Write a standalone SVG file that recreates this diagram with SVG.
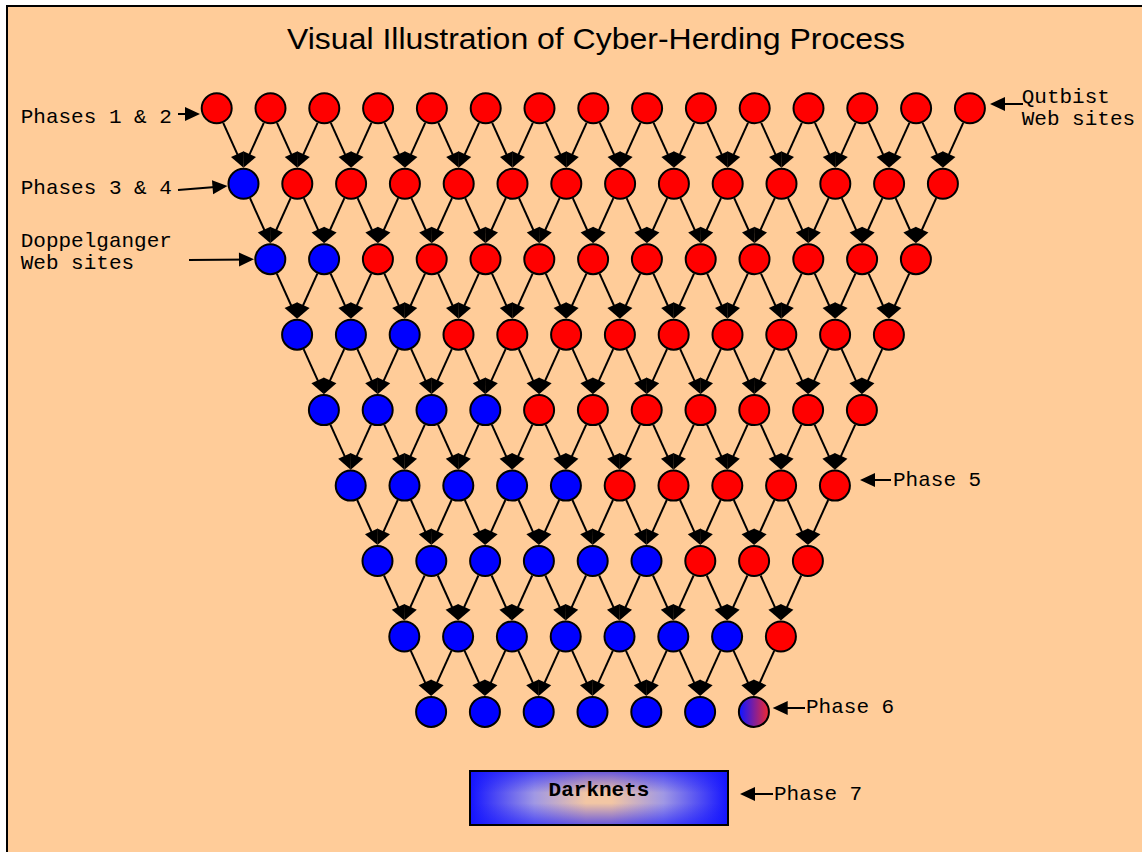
<svg xmlns="http://www.w3.org/2000/svg" width="1142" height="852" viewBox="0 0 1142 852">
<style>
.n circle{stroke:#000;stroke-width:2}
.red{fill:#ff0000}
.blue{fill:#0000ff}
#edges line,.ann line{stroke:#000;stroke-width:2;marker-end:url(#ah)}
.lbl{font-family:"Liberation Mono","Courier New",monospace;font-size:21px;fill:#000}
</style>
<defs>
<marker id="ah" markerUnits="userSpaceOnUse" markerWidth="16" markerHeight="15" refX="12" refY="7" orient="auto" overflow="visible"><path d="M0,0 L15,7 L0,14 z" fill="#000"/></marker>
<linearGradient id="mix" x1="0" y1="0" x2="1" y2="0"><stop offset="0.05" stop-color="#1515ff"/><stop offset="0.95" stop-color="#e8283a"/></linearGradient>
<linearGradient id="dkh" x1="0" y1="0" x2="1" y2="0"><stop offset="0" stop-color="#1414ff"/><stop offset="0.25" stop-color="#a098e4"/><stop offset="0.45" stop-color="#f2c6a4"/><stop offset="0.55" stop-color="#f2c6a4"/><stop offset="0.75" stop-color="#a098e4"/><stop offset="1" stop-color="#1414ff"/></linearGradient>
<linearGradient id="dkv" x1="0" y1="0" x2="0" y2="1"><stop offset="0" stop-color="#1414ff" stop-opacity="0.6"/><stop offset="0.4" stop-color="#1414ff" stop-opacity="0"/><stop offset="0.6" stop-color="#1414ff" stop-opacity="0"/><stop offset="1" stop-color="#1414ff" stop-opacity="0.6"/></linearGradient>
</defs>
<rect x="0" y="0" width="1142" height="852" fill="#ffffff"/>
<rect x="7" y="6" width="1200" height="900" fill="#ffcc99" stroke="#000" stroke-width="2"/>
<text x="287" y="49" font-family="Liberation Sans, Arial, sans-serif" font-size="30" textLength="618" lengthAdjust="spacingAndGlyphs">Visual Illustration of Cyber-Herding Process</text>

<g id="edges">
<g transform="translate(243.5,183.8)">
<line x1="-20.3" y1="-61" x2="-1.2" y2="-18.7"/><line x1="20.3" y1="-61" x2="1.2" y2="-18.7"/>
<line x1="33.5" y1="-61" x2="52.6" y2="-18.7"/><line x1="74.1" y1="-61" x2="55" y2="-18.7"/>
<line x1="87.3" y1="-61" x2="106.4" y2="-18.7"/><line x1="127.9" y1="-61" x2="108.8" y2="-18.7"/>
<line x1="141.1" y1="-61" x2="160.2" y2="-18.7"/><line x1="181.7" y1="-61" x2="162.6" y2="-18.7"/>
<line x1="194.9" y1="-61" x2="214" y2="-18.7"/><line x1="235.5" y1="-61" x2="216.4" y2="-18.7"/>
<line x1="248.7" y1="-61" x2="267.8" y2="-18.7"/><line x1="289.3" y1="-61" x2="270.2" y2="-18.7"/>
<line x1="302.5" y1="-61" x2="321.6" y2="-18.7"/><line x1="343.1" y1="-61" x2="324" y2="-18.7"/>
<line x1="356.3" y1="-61" x2="375.4" y2="-18.7"/><line x1="396.9" y1="-61" x2="377.8" y2="-18.7"/>
<line x1="410.1" y1="-61" x2="429.2" y2="-18.7"/><line x1="450.7" y1="-61" x2="431.6" y2="-18.7"/>
<line x1="463.9" y1="-61" x2="483" y2="-18.7"/><line x1="504.5" y1="-61" x2="485.4" y2="-18.7"/>
<line x1="517.7" y1="-61" x2="536.8" y2="-18.7"/><line x1="558.3" y1="-61" x2="539.2" y2="-18.7"/>
<line x1="571.5" y1="-61" x2="590.6" y2="-18.7"/><line x1="612.1" y1="-61" x2="593" y2="-18.7"/>
<line x1="625.3" y1="-61" x2="644.4" y2="-18.7"/><line x1="665.9" y1="-61" x2="646.8" y2="-18.7"/>
<line x1="679.1" y1="-61" x2="698.2" y2="-18.7"/><line x1="719.7" y1="-61" x2="700.6" y2="-18.7"/>
</g>
<g transform="translate(270.3,259.2)">
<line x1="-20.3" y1="-61" x2="-1.2" y2="-18.7"/><line x1="20.3" y1="-61" x2="1.2" y2="-18.7"/>
<line x1="33.5" y1="-61" x2="52.6" y2="-18.7"/><line x1="74.1" y1="-61" x2="55" y2="-18.7"/>
<line x1="87.3" y1="-61" x2="106.4" y2="-18.7"/><line x1="127.9" y1="-61" x2="108.8" y2="-18.7"/>
<line x1="141.1" y1="-61" x2="160.2" y2="-18.7"/><line x1="181.7" y1="-61" x2="162.6" y2="-18.7"/>
<line x1="194.9" y1="-61" x2="214" y2="-18.7"/><line x1="235.5" y1="-61" x2="216.4" y2="-18.7"/>
<line x1="248.7" y1="-61" x2="267.8" y2="-18.7"/><line x1="289.3" y1="-61" x2="270.2" y2="-18.7"/>
<line x1="302.5" y1="-61" x2="321.6" y2="-18.7"/><line x1="343.1" y1="-61" x2="324" y2="-18.7"/>
<line x1="356.3" y1="-61" x2="375.4" y2="-18.7"/><line x1="396.9" y1="-61" x2="377.8" y2="-18.7"/>
<line x1="410.1" y1="-61" x2="429.2" y2="-18.7"/><line x1="450.7" y1="-61" x2="431.6" y2="-18.7"/>
<line x1="463.9" y1="-61" x2="483" y2="-18.7"/><line x1="504.5" y1="-61" x2="485.4" y2="-18.7"/>
<line x1="517.7" y1="-61" x2="536.8" y2="-18.7"/><line x1="558.3" y1="-61" x2="539.2" y2="-18.7"/>
<line x1="571.5" y1="-61" x2="590.6" y2="-18.7"/><line x1="612.1" y1="-61" x2="593" y2="-18.7"/>
<line x1="625.3" y1="-61" x2="644.4" y2="-18.7"/><line x1="665.9" y1="-61" x2="646.8" y2="-18.7"/>
</g>
<g transform="translate(297.1,334.7)">
<line x1="-20.3" y1="-61" x2="-1.2" y2="-18.7"/><line x1="20.3" y1="-61" x2="1.2" y2="-18.7"/>
<line x1="33.5" y1="-61" x2="52.6" y2="-18.7"/><line x1="74.1" y1="-61" x2="55" y2="-18.7"/>
<line x1="87.3" y1="-61" x2="106.4" y2="-18.7"/><line x1="127.9" y1="-61" x2="108.8" y2="-18.7"/>
<line x1="141.1" y1="-61" x2="160.2" y2="-18.7"/><line x1="181.7" y1="-61" x2="162.6" y2="-18.7"/>
<line x1="194.9" y1="-61" x2="214" y2="-18.7"/><line x1="235.5" y1="-61" x2="216.4" y2="-18.7"/>
<line x1="248.7" y1="-61" x2="267.8" y2="-18.7"/><line x1="289.3" y1="-61" x2="270.2" y2="-18.7"/>
<line x1="302.5" y1="-61" x2="321.6" y2="-18.7"/><line x1="343.1" y1="-61" x2="324" y2="-18.7"/>
<line x1="356.3" y1="-61" x2="375.4" y2="-18.7"/><line x1="396.9" y1="-61" x2="377.8" y2="-18.7"/>
<line x1="410.1" y1="-61" x2="429.2" y2="-18.7"/><line x1="450.7" y1="-61" x2="431.6" y2="-18.7"/>
<line x1="463.9" y1="-61" x2="483" y2="-18.7"/><line x1="504.5" y1="-61" x2="485.4" y2="-18.7"/>
<line x1="517.7" y1="-61" x2="536.8" y2="-18.7"/><line x1="558.3" y1="-61" x2="539.2" y2="-18.7"/>
<line x1="571.5" y1="-61" x2="590.6" y2="-18.7"/><line x1="612.1" y1="-61" x2="593" y2="-18.7"/>
</g>
<g transform="translate(323.9,410.1)">
<line x1="-20.3" y1="-61" x2="-1.2" y2="-18.7"/><line x1="20.3" y1="-61" x2="1.2" y2="-18.7"/>
<line x1="33.5" y1="-61" x2="52.6" y2="-18.7"/><line x1="74.1" y1="-61" x2="55" y2="-18.7"/>
<line x1="87.3" y1="-61" x2="106.4" y2="-18.7"/><line x1="127.9" y1="-61" x2="108.8" y2="-18.7"/>
<line x1="141.1" y1="-61" x2="160.2" y2="-18.7"/><line x1="181.7" y1="-61" x2="162.6" y2="-18.7"/>
<line x1="194.9" y1="-61" x2="214" y2="-18.7"/><line x1="235.5" y1="-61" x2="216.4" y2="-18.7"/>
<line x1="248.7" y1="-61" x2="267.8" y2="-18.7"/><line x1="289.3" y1="-61" x2="270.2" y2="-18.7"/>
<line x1="302.5" y1="-61" x2="321.6" y2="-18.7"/><line x1="343.1" y1="-61" x2="324" y2="-18.7"/>
<line x1="356.3" y1="-61" x2="375.4" y2="-18.7"/><line x1="396.9" y1="-61" x2="377.8" y2="-18.7"/>
<line x1="410.1" y1="-61" x2="429.2" y2="-18.7"/><line x1="450.7" y1="-61" x2="431.6" y2="-18.7"/>
<line x1="463.9" y1="-61" x2="483" y2="-18.7"/><line x1="504.5" y1="-61" x2="485.4" y2="-18.7"/>
<line x1="517.7" y1="-61" x2="536.8" y2="-18.7"/><line x1="558.3" y1="-61" x2="539.2" y2="-18.7"/>
</g>
<g transform="translate(350.7,485.6)">
<line x1="-20.3" y1="-61" x2="-1.2" y2="-18.7"/><line x1="20.3" y1="-61" x2="1.2" y2="-18.7"/>
<line x1="33.5" y1="-61" x2="52.6" y2="-18.7"/><line x1="74.1" y1="-61" x2="55" y2="-18.7"/>
<line x1="87.3" y1="-61" x2="106.4" y2="-18.7"/><line x1="127.9" y1="-61" x2="108.8" y2="-18.7"/>
<line x1="141.1" y1="-61" x2="160.2" y2="-18.7"/><line x1="181.7" y1="-61" x2="162.6" y2="-18.7"/>
<line x1="194.9" y1="-61" x2="214" y2="-18.7"/><line x1="235.5" y1="-61" x2="216.4" y2="-18.7"/>
<line x1="248.7" y1="-61" x2="267.8" y2="-18.7"/><line x1="289.3" y1="-61" x2="270.2" y2="-18.7"/>
<line x1="302.5" y1="-61" x2="321.6" y2="-18.7"/><line x1="343.1" y1="-61" x2="324" y2="-18.7"/>
<line x1="356.3" y1="-61" x2="375.4" y2="-18.7"/><line x1="396.9" y1="-61" x2="377.8" y2="-18.7"/>
<line x1="410.1" y1="-61" x2="429.2" y2="-18.7"/><line x1="450.7" y1="-61" x2="431.6" y2="-18.7"/>
<line x1="463.9" y1="-61" x2="483" y2="-18.7"/><line x1="504.5" y1="-61" x2="485.4" y2="-18.7"/>
</g>
<g transform="translate(377.5,561)">
<line x1="-20.3" y1="-61" x2="-1.2" y2="-18.7"/><line x1="20.3" y1="-61" x2="1.2" y2="-18.7"/>
<line x1="33.5" y1="-61" x2="52.6" y2="-18.7"/><line x1="74.1" y1="-61" x2="55" y2="-18.7"/>
<line x1="87.3" y1="-61" x2="106.4" y2="-18.7"/><line x1="127.9" y1="-61" x2="108.8" y2="-18.7"/>
<line x1="141.1" y1="-61" x2="160.2" y2="-18.7"/><line x1="181.7" y1="-61" x2="162.6" y2="-18.7"/>
<line x1="194.9" y1="-61" x2="214" y2="-18.7"/><line x1="235.5" y1="-61" x2="216.4" y2="-18.7"/>
<line x1="248.7" y1="-61" x2="267.8" y2="-18.7"/><line x1="289.3" y1="-61" x2="270.2" y2="-18.7"/>
<line x1="302.5" y1="-61" x2="321.6" y2="-18.7"/><line x1="343.1" y1="-61" x2="324" y2="-18.7"/>
<line x1="356.3" y1="-61" x2="375.4" y2="-18.7"/><line x1="396.9" y1="-61" x2="377.8" y2="-18.7"/>
<line x1="410.1" y1="-61" x2="429.2" y2="-18.7"/><line x1="450.7" y1="-61" x2="431.6" y2="-18.7"/>
</g>
<g transform="translate(404.3,636.5)">
<line x1="-20.3" y1="-61" x2="-1.2" y2="-18.7"/><line x1="20.3" y1="-61" x2="1.2" y2="-18.7"/>
<line x1="33.5" y1="-61" x2="52.6" y2="-18.7"/><line x1="74.1" y1="-61" x2="55" y2="-18.7"/>
<line x1="87.3" y1="-61" x2="106.4" y2="-18.7"/><line x1="127.9" y1="-61" x2="108.8" y2="-18.7"/>
<line x1="141.1" y1="-61" x2="160.2" y2="-18.7"/><line x1="181.7" y1="-61" x2="162.6" y2="-18.7"/>
<line x1="194.9" y1="-61" x2="214" y2="-18.7"/><line x1="235.5" y1="-61" x2="216.4" y2="-18.7"/>
<line x1="248.7" y1="-61" x2="267.8" y2="-18.7"/><line x1="289.3" y1="-61" x2="270.2" y2="-18.7"/>
<line x1="302.5" y1="-61" x2="321.6" y2="-18.7"/><line x1="343.1" y1="-61" x2="324" y2="-18.7"/>
<line x1="356.3" y1="-61" x2="375.4" y2="-18.7"/><line x1="396.9" y1="-61" x2="377.8" y2="-18.7"/>
</g>
<g transform="translate(431.1,711.9)">
<line x1="-20.3" y1="-61" x2="-1.2" y2="-18.7"/><line x1="20.3" y1="-61" x2="1.2" y2="-18.7"/>
<line x1="33.5" y1="-61" x2="52.6" y2="-18.7"/><line x1="74.1" y1="-61" x2="55" y2="-18.7"/>
<line x1="87.3" y1="-61" x2="106.4" y2="-18.7"/><line x1="127.9" y1="-61" x2="108.8" y2="-18.7"/>
<line x1="141.1" y1="-61" x2="160.2" y2="-18.7"/><line x1="181.7" y1="-61" x2="162.6" y2="-18.7"/>
<line x1="194.9" y1="-61" x2="214" y2="-18.7"/><line x1="235.5" y1="-61" x2="216.4" y2="-18.7"/>
<line x1="248.7" y1="-61" x2="267.8" y2="-18.7"/><line x1="289.3" y1="-61" x2="270.2" y2="-18.7"/>
<line x1="302.5" y1="-61" x2="321.6" y2="-18.7"/><line x1="343.1" y1="-61" x2="324" y2="-18.7"/>
</g>
</g>

<g id="nodes">
<g transform="translate(216.7,108.3)">
<g id="n0-0" class="n"><circle class="red" cx="0" cy="0" r="15"/></g>
<g id="n0-1" class="n"><circle class="red" cx="53.8" cy="0" r="15"/></g>
<g id="n0-2" class="n"><circle class="red" cx="107.6" cy="0" r="15"/></g>
<g id="n0-3" class="n"><circle class="red" cx="161.4" cy="0" r="15"/></g>
<g id="n0-4" class="n"><circle class="red" cx="215.2" cy="0" r="15"/></g>
<g id="n0-5" class="n"><circle class="red" cx="269" cy="0" r="15"/></g>
<g id="n0-6" class="n"><circle class="red" cx="322.8" cy="0" r="15"/></g>
<g id="n0-7" class="n"><circle class="red" cx="376.6" cy="0" r="15"/></g>
<g id="n0-8" class="n"><circle class="red" cx="430.4" cy="0" r="15"/></g>
<g id="n0-9" class="n"><circle class="red" cx="484.2" cy="0" r="15"/></g>
<g id="n0-10" class="n"><circle class="red" cx="538" cy="0" r="15"/></g>
<g id="n0-11" class="n"><circle class="red" cx="591.8" cy="0" r="15"/></g>
<g id="n0-12" class="n"><circle class="red" cx="645.6" cy="0" r="15"/></g>
<g id="n0-13" class="n"><circle class="red" cx="699.4" cy="0" r="15"/></g>
<g id="n0-14" class="n"><circle class="red" cx="753.2" cy="0" r="15"/></g>
</g>
<g transform="translate(243.5,183.8)">
<g id="n1-0" class="n"><circle class="blue" cx="0" cy="0" r="15"/></g>
<g id="n1-1" class="n"><circle class="red" cx="53.8" cy="0" r="15"/></g>
<g id="n1-2" class="n"><circle class="red" cx="107.6" cy="0" r="15"/></g>
<g id="n1-3" class="n"><circle class="red" cx="161.4" cy="0" r="15"/></g>
<g id="n1-4" class="n"><circle class="red" cx="215.2" cy="0" r="15"/></g>
<g id="n1-5" class="n"><circle class="red" cx="269" cy="0" r="15"/></g>
<g id="n1-6" class="n"><circle class="red" cx="322.8" cy="0" r="15"/></g>
<g id="n1-7" class="n"><circle class="red" cx="376.6" cy="0" r="15"/></g>
<g id="n1-8" class="n"><circle class="red" cx="430.4" cy="0" r="15"/></g>
<g id="n1-9" class="n"><circle class="red" cx="484.2" cy="0" r="15"/></g>
<g id="n1-10" class="n"><circle class="red" cx="538" cy="0" r="15"/></g>
<g id="n1-11" class="n"><circle class="red" cx="591.8" cy="0" r="15"/></g>
<g id="n1-12" class="n"><circle class="red" cx="645.6" cy="0" r="15"/></g>
<g id="n1-13" class="n"><circle class="red" cx="699.4" cy="0" r="15"/></g>
</g>
<g transform="translate(270.3,259.2)">
<g id="n2-0" class="n"><circle class="blue" cx="0" cy="0" r="15"/></g>
<g id="n2-1" class="n"><circle class="blue" cx="53.8" cy="0" r="15"/></g>
<g id="n2-2" class="n"><circle class="red" cx="107.6" cy="0" r="15"/></g>
<g id="n2-3" class="n"><circle class="red" cx="161.4" cy="0" r="15"/></g>
<g id="n2-4" class="n"><circle class="red" cx="215.2" cy="0" r="15"/></g>
<g id="n2-5" class="n"><circle class="red" cx="269" cy="0" r="15"/></g>
<g id="n2-6" class="n"><circle class="red" cx="322.8" cy="0" r="15"/></g>
<g id="n2-7" class="n"><circle class="red" cx="376.6" cy="0" r="15"/></g>
<g id="n2-8" class="n"><circle class="red" cx="430.4" cy="0" r="15"/></g>
<g id="n2-9" class="n"><circle class="red" cx="484.2" cy="0" r="15"/></g>
<g id="n2-10" class="n"><circle class="red" cx="538" cy="0" r="15"/></g>
<g id="n2-11" class="n"><circle class="red" cx="591.8" cy="0" r="15"/></g>
<g id="n2-12" class="n"><circle class="red" cx="645.6" cy="0" r="15"/></g>
</g>
<g transform="translate(297.1,334.7)">
<g id="n3-0" class="n"><circle class="blue" cx="0" cy="0" r="15"/></g>
<g id="n3-1" class="n"><circle class="blue" cx="53.8" cy="0" r="15"/></g>
<g id="n3-2" class="n"><circle class="blue" cx="107.6" cy="0" r="15"/></g>
<g id="n3-3" class="n"><circle class="red" cx="161.4" cy="0" r="15"/></g>
<g id="n3-4" class="n"><circle class="red" cx="215.2" cy="0" r="15"/></g>
<g id="n3-5" class="n"><circle class="red" cx="269" cy="0" r="15"/></g>
<g id="n3-6" class="n"><circle class="red" cx="322.8" cy="0" r="15"/></g>
<g id="n3-7" class="n"><circle class="red" cx="376.6" cy="0" r="15"/></g>
<g id="n3-8" class="n"><circle class="red" cx="430.4" cy="0" r="15"/></g>
<g id="n3-9" class="n"><circle class="red" cx="484.2" cy="0" r="15"/></g>
<g id="n3-10" class="n"><circle class="red" cx="538" cy="0" r="15"/></g>
<g id="n3-11" class="n"><circle class="red" cx="591.8" cy="0" r="15"/></g>
</g>
<g transform="translate(323.9,410.1)">
<g id="n4-0" class="n"><circle class="blue" cx="0" cy="0" r="15"/></g>
<g id="n4-1" class="n"><circle class="blue" cx="53.8" cy="0" r="15"/></g>
<g id="n4-2" class="n"><circle class="blue" cx="107.6" cy="0" r="15"/></g>
<g id="n4-3" class="n"><circle class="blue" cx="161.4" cy="0" r="15"/></g>
<g id="n4-4" class="n"><circle class="red" cx="215.2" cy="0" r="15"/></g>
<g id="n4-5" class="n"><circle class="red" cx="269" cy="0" r="15"/></g>
<g id="n4-6" class="n"><circle class="red" cx="322.8" cy="0" r="15"/></g>
<g id="n4-7" class="n"><circle class="red" cx="376.6" cy="0" r="15"/></g>
<g id="n4-8" class="n"><circle class="red" cx="430.4" cy="0" r="15"/></g>
<g id="n4-9" class="n"><circle class="red" cx="484.2" cy="0" r="15"/></g>
<g id="n4-10" class="n"><circle class="red" cx="538" cy="0" r="15"/></g>
</g>
<g transform="translate(350.7,485.6)">
<g id="n5-0" class="n"><circle class="blue" cx="0" cy="0" r="15"/></g>
<g id="n5-1" class="n"><circle class="blue" cx="53.8" cy="0" r="15"/></g>
<g id="n5-2" class="n"><circle class="blue" cx="107.6" cy="0" r="15"/></g>
<g id="n5-3" class="n"><circle class="blue" cx="161.4" cy="0" r="15"/></g>
<g id="n5-4" class="n"><circle class="blue" cx="215.2" cy="0" r="15"/></g>
<g id="n5-5" class="n"><circle class="red" cx="269" cy="0" r="15"/></g>
<g id="n5-6" class="n"><circle class="red" cx="322.8" cy="0" r="15"/></g>
<g id="n5-7" class="n"><circle class="red" cx="376.6" cy="0" r="15"/></g>
<g id="n5-8" class="n"><circle class="red" cx="430.4" cy="0" r="15"/></g>
<g id="n5-9" class="n"><circle class="red" cx="484.2" cy="0" r="15"/></g>
</g>
<g transform="translate(377.5,561)">
<g id="n6-0" class="n"><circle class="blue" cx="0" cy="0" r="15"/></g>
<g id="n6-1" class="n"><circle class="blue" cx="53.8" cy="0" r="15"/></g>
<g id="n6-2" class="n"><circle class="blue" cx="107.6" cy="0" r="15"/></g>
<g id="n6-3" class="n"><circle class="blue" cx="161.4" cy="0" r="15"/></g>
<g id="n6-4" class="n"><circle class="blue" cx="215.2" cy="0" r="15"/></g>
<g id="n6-5" class="n"><circle class="blue" cx="269" cy="0" r="15"/></g>
<g id="n6-6" class="n"><circle class="red" cx="322.8" cy="0" r="15"/></g>
<g id="n6-7" class="n"><circle class="red" cx="376.6" cy="0" r="15"/></g>
<g id="n6-8" class="n"><circle class="red" cx="430.4" cy="0" r="15"/></g>
</g>
<g transform="translate(404.3,636.5)">
<g id="n7-0" class="n"><circle class="blue" cx="0" cy="0" r="15"/></g>
<g id="n7-1" class="n"><circle class="blue" cx="53.8" cy="0" r="15"/></g>
<g id="n7-2" class="n"><circle class="blue" cx="107.6" cy="0" r="15"/></g>
<g id="n7-3" class="n"><circle class="blue" cx="161.4" cy="0" r="15"/></g>
<g id="n7-4" class="n"><circle class="blue" cx="215.2" cy="0" r="15"/></g>
<g id="n7-5" class="n"><circle class="blue" cx="269" cy="0" r="15"/></g>
<g id="n7-6" class="n"><circle class="blue" cx="322.8" cy="0" r="15"/></g>
<g id="n7-7" class="n"><circle class="red" cx="376.6" cy="0" r="15"/></g>
</g>
<g transform="translate(431.1,711.9)">
<g id="n8-0" class="n"><circle class="blue" cx="0" cy="0" r="15"/></g>
<g id="n8-1" class="n"><circle class="blue" cx="53.8" cy="0" r="15"/></g>
<g id="n8-2" class="n"><circle class="blue" cx="107.6" cy="0" r="15"/></g>
<g id="n8-3" class="n"><circle class="blue" cx="161.4" cy="0" r="15"/></g>
<g id="n8-4" class="n"><circle class="blue" cx="215.2" cy="0" r="15"/></g>
<g id="n8-5" class="n"><circle class="blue" cx="269" cy="0" r="15"/></g>
<g id="n8-6" class="n"><circle fill="url(#mix)" cx="322.8" cy="0" r="15"/></g>
</g>
<g id="darknets">
<rect x="470" y="771" width="258" height="54" fill="url(#dkh)" stroke="#000" stroke-width="2"/>
<rect x="471" y="772" width="256" height="52" fill="url(#dkv)"/>
<text x="599" y="796" text-anchor="middle" class="lbl" font-weight="bold">Darknets</text>
</g>
</g>

<g id="annotations" class="ann">
<g id="lbl-p12"><text class="lbl" x="20.7" y="123">Phases 1 &amp; 2</text><line x1="178" y1="114" x2="197" y2="114"/></g>
<g id="lbl-p34"><text class="lbl" x="20.7" y="194">Phases 3 &amp; 4</text><line x1="178" y1="190" x2="224.5" y2="186.2"/></g>
<g id="lbl-dop"><text class="lbl" x="20.7" y="247">Doppelganger</text><text class="lbl" x="20.7" y="269">Web sites</text><line x1="189" y1="260" x2="251" y2="259.4"/></g>
<g id="lbl-qut"><text class="lbl" x="1021.7" y="103">Qutbist</text><text class="lbl" x="1021.7" y="125">Web sites</text><line x1="1023" y1="104" x2="993" y2="104"/></g>
<g id="lbl-p5"><text class="lbl" x="893" y="486">Phase 5</text><line x1="891" y1="480" x2="863" y2="480"/></g>
<g id="lbl-p6"><text class="lbl" x="806" y="713">Phase 6</text><line x1="805" y1="708" x2="775.7" y2="708"/></g>
<g id="lbl-p7"><text class="lbl" x="774" y="800">Phase 7</text><line x1="773" y1="794" x2="743" y2="794"/></g>
</g>
</svg>
